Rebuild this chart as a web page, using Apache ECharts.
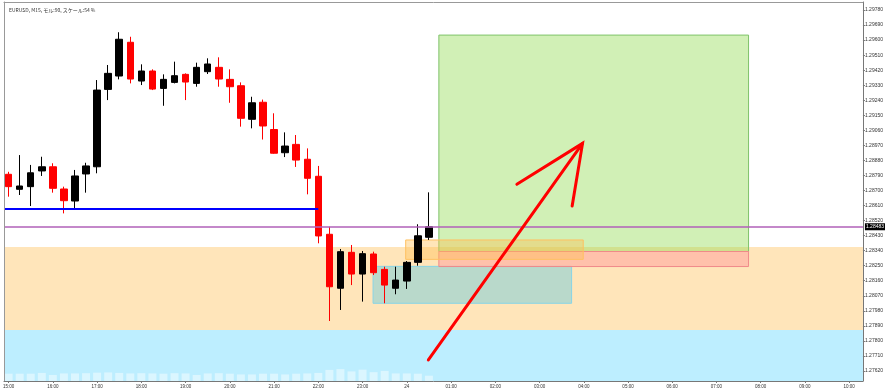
<!DOCTYPE html>
<html><head><meta charset="utf-8">
<script src="https://cdn.jsdelivr.net/npm/echarts@6/dist/echarts.min.js"></script>
<style>html,body{margin:0;padding:0;background:#fff}#c{width:886px;height:392px}</style>
</head><body><div id="c"></div>
<script>
const chartTitle = 'EURUSD, M15, モル:90, スケール:54 %';
const hourLabels = ['15:00','16:00','17:00','18:00','19:00','20:00','21:00','22:00','23:00','24','01:00','02:00','03:00','04:00','05:00','06:00','07:00','08:00','09:00','10:00'];
const barsPerHour = 4;
const priceTicks = [1.27620,1.27710,1.27800,1.27890,1.27980,1.28070,1.28160,1.28250,1.28340,1.28430,1.28520,1.28610,1.28700,1.28790,1.28880,1.28970,1.29060,1.29150,1.29240,1.29330,1.29420,1.29510,1.29600,1.29690,1.29780];
const priceMin = 1.27560, priceMax = 1.29828;
const barMin = -0.42, barMax = 77.24;

const open  = [1.28797,1.28707,1.28723,1.28817,1.28842,1.28709,1.28637,1.28799,1.28842,1.29305,1.29385,1.29587,1.29355,1.29415,1.29311,1.29347,1.29395,1.29341,1.29411,1.29437,1.29365,1.29327,1.29126,1.29228,1.29065,1.28926,1.28976,1.28887,1.28785,1.28438,1.28115,1.28330,1.28200,1.28320,1.28228,1.28115,1.28158,1.28270,1.28420];
const close = [1.28723,1.28727,1.28806,1.28842,1.28713,1.28639,1.28787,1.28847,1.29301,1.29401,1.29605,1.29367,1.29415,1.29307,1.29365,1.29387,1.29349,1.29437,1.29457,1.29367,1.29321,1.29132,1.29225,1.29086,1.28923,1.28966,1.28882,1.28773,1.28428,1.28124,1.28334,1.28200,1.28322,1.28208,1.28134,1.28164,1.28270,1.28429,1.28483];
const high  = [1.28812,1.28912,1.28853,1.28902,1.28863,1.28723,1.28823,1.28866,1.29361,1.29451,1.29647,1.29620,1.29455,1.29425,1.29395,1.29471,1.29401,1.29465,1.29491,1.29497,1.29425,1.29347,1.29261,1.29244,1.29162,1.29048,1.29032,1.28952,1.28847,1.28483,1.28350,1.28374,1.28338,1.28334,1.28244,1.28244,1.28278,1.28498,1.28689];
const low   = [1.28663,1.28673,1.28607,1.28787,1.28687,1.28563,1.28593,1.28687,1.28803,1.29241,1.29365,1.29341,1.29331,1.29301,1.29207,1.29341,1.29241,1.29321,1.29397,1.29321,1.29225,1.29082,1.29072,1.29005,1.28920,1.28900,1.28841,1.28677,1.28384,1.27919,1.27985,1.28134,1.28035,1.28194,1.28025,1.28079,1.28111,1.28250,1.28404];
const volume = [290,290,290,320,240,300,300,310,330,340,320,300,310,300,290,310,300,240,300,310,290,260,260,290,290,260,290,300,320,440,470,380,450,350,400,300,300,290,210];
const volumeScaleMax = 15000;

const currentPrice = 1.28483;
const blueLevel = 1.28593, blueLevelEnd = 28;
const blueZone = [1.27560, 1.27865];
const orangeZone = [1.27865, 1.28362];
// boxes: [barStart, barEnd, priceLow, priceHigh]
const greenBox  = [38.9, 66.9, 1.28335, 1.29630];
const salmonBox = [38.9, 66.9, 1.28245, 1.28335];
const amberBox  = [35.9, 51.95, 1.28288, 1.28404];
const tealBox   = [32.95, 50.9, 1.28025, 1.28246];
const arrowShaft = [[37.95, 1.27686], [51.89, 1.28982]];
const arrowHead  = [[45.95, 1.28737], [51.89, 1.28982], [50.95, 1.28607]];

function box(b, color, border) {
  return [{coord: [b[0], b[3]], itemStyle: {color: color, borderColor: border, borderWidth: 1}}, {coord: [b[1], b[2]]}];
}

const chart = echarts.init(document.getElementById('c'), null, {renderer: 'canvas'});
const fontFam = 'Liberation Sans, Arial, sans-serif';
chart.setOption({
  animation: false,
  backgroundColor: '#ffffff',
  title: {text: chartTitle, left: 4, top: 3, textStyle: {fontSize: 5, fontWeight: 'normal', color: '#333', fontFamily: 'Noto Sans CJK JP'}},
  grid: {left: 2, right: 22, top: 2, bottom: 11, containLabel: false},
  xAxis: [{
    type: 'value', min: barMin, max: barMax, z: 10,
    axisLine: {show: true, onZero: false, lineStyle: {color: '#777', width: 1}},
    axisTick: {show: true, length: 2, lineStyle: {color: '#777'}, customValues: hourLabels.map((_, k) => k * barsPerHour)},
    axisLabel: {fontSize: 4.5, color: '#333', margin: 3, fontFamily: fontFam,
      customValues: hourLabels.map((_, k) => k * barsPerHour),
      formatter: v => hourLabels[Math.round(v / barsPerHour)]},
    splitLine: {show: false}
  }, {
    type: 'value', position: 'top', min: barMin, max: barMax, z: 10,
    axisLine: {show: true, onZero: false, lineStyle: {color: '#999'}},
    axisTick: {show: false}, axisLabel: {show: false}, splitLine: {show: false}
  }],
  yAxis: [{
    type: 'value', position: 'right', min: priceMin, max: priceMax, z: 10,
    axisLine: {show: true, onZero: false, lineStyle: {color: '#777'}},
    axisTick: {show: true, length: 2, lineStyle: {color: '#777'}, customValues: priceTicks},
    axisLabel: {fontSize: 5, color: '#333', margin: 2, fontFamily: fontFam, customValues: priceTicks,
      formatter: v => v.toFixed(5)},
    splitLine: {show: false}
  }, {
    type: 'value', show: false, min: 0, max: volumeScaleMax,
    axisLine: {onZero: false}
  }, {
    type: 'value', position: 'left', min: priceMin, max: priceMax, z: 10,
    axisLine: {show: true, onZero: false, lineStyle: {color: '#999'}},
    axisTick: {show: false}, axisLabel: {show: false}, splitLine: {show: false}
  }],
  series: [
    {
      type: 'line', data: [], silent: true,
      markArea: {silent: true, z: 1, data: [
        [{yAxis: blueZone[0], itemStyle: {color: '#bdeeff'}}, {yAxis: blueZone[1]}],
        [{yAxis: orangeZone[0], itemStyle: {color: '#ffe5ba'}}, {yAxis: orangeZone[1]}]
      ]}
    },
    {
      type: 'bar', xAxisIndex: 0, yAxisIndex: 1, z: 2, barWidth: 8, silent: true,
      itemStyle: {color: 'rgba(255,255,255,0.45)'},
      data: volume.map((v, i) => [i, v])
    },
    {
      type: 'line', data: [], silent: true,
      markArea: {silent: true, z: 3, data: [
        box(tealBox, 'rgba(80,200,230,0.4)', '#88d4e6'),
        box(greenBox, 'rgba(145,220,80,0.42)', '#7fc36a'),
        box(salmonBox, 'rgba(255,140,150,0.4)', '#f08a8a'),
        box(amberBox, 'rgba(255,190,80,0.4)', '#ffc060')
      ]}
    },
    {
      type: 'candlestick', z: 4, barWidth: 7, silent: true,
      encode: {x: 0, y: [1, 2, 3, 4]},
      itemStyle: {color: '#000000', color0: '#ff0000', borderColor: '#000000', borderColor0: '#ff0000', borderWidth: 1},
      data: open.map((o, i) => [i, o, close[i], low[i], high[i]])
    },
    {
      type: 'line', data: [], silent: true,
      markLine: {silent: true, z: 5, symbol: ['none', 'none'], animation: false,
        data: [
          [{coord: [barMin, blueLevel], lineStyle: {color: '#0000ff', width: 2, type: 'solid'}, label: {show: false}},
           {coord: [blueLevelEnd, blueLevel]}],
          [{coord: [barMin, currentPrice], lineStyle: {color: '#b060b8', width: 1.5, type: 'solid'},
            label: {show: true, position: 'end', distance: 2, formatter: currentPrice.toFixed(5),
             color: '#fff', backgroundColor: '#000', fontSize: 5, padding: [1, 1], fontFamily: fontFam}},
           {coord: [barMax, currentPrice]}]
        ]}
    },
    {
      type: 'line', z: 6, silent: true, symbol: 'none', data: arrowShaft,
      lineStyle: {color: '#ff0000', width: 3, cap: 'round'}
    },
    {
      type: 'line', z: 6, silent: true, symbol: 'none', data: arrowHead,
      lineStyle: {color: '#ff0000', width: 3, cap: 'round', join: 'miter'}
    }
  ]
});
</script></body></html>
